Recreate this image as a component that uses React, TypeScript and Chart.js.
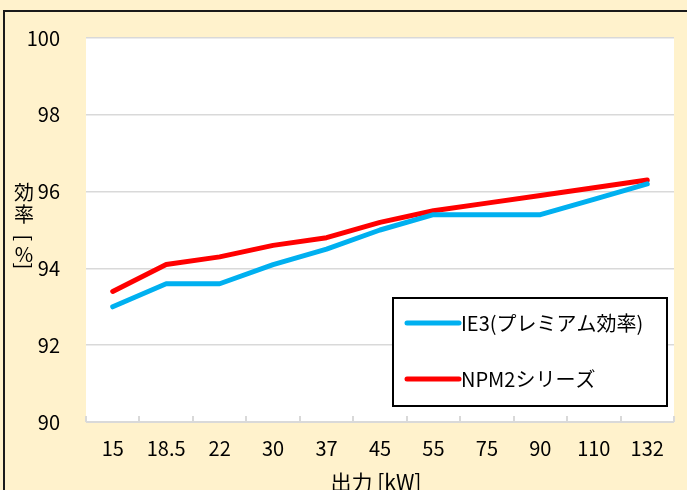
import React, { useEffect, useRef } from "react";
import { Chart, registerables } from "chart.js";

Chart.register(...registerables);

const categories = ["15", "18.5", "22", "30", "37", "45", "55", "75", "90", "110", "132"];
const ie3Values = [93.0, 93.6, 93.6, 94.1, 94.5, 95.0, 95.4, 95.4, 95.4, 95.8, 96.2];
const npm2Values = [93.4, 94.1, 94.3, 94.6, 94.8, 95.2, 95.5, 95.7, 95.9, 96.1, 96.3];
const yTickValues = [90, 92, 94, 96, 98, 100];
const seriesLabels = ["IE3(プレミアム効率)", "NPM2シリーズ"];
const seriesColors = ["#00B0F0", "#FF0000"];
const xTitle = "出力 [kW]";
const yTitleChars = ["効", "率"];
const yTitleUnit = "%";

const FONT = "'Noto Sans CJK JP', 'Noto Sans', sans-serif";
const CREAM = "#FFF2CC";
const GRID = "#D9D9D9";

const decorPlugin = {
  id: "decor",
  beforeDraw(chart: any) {
    const { ctx, chartArea } = chart;
    ctx.save();
    ctx.fillStyle = "#FFFFFF";
    ctx.fillRect(chartArea.left, chartArea.top, chartArea.right - chartArea.left, chartArea.bottom - chartArea.top);
    ctx.restore();
  },
  afterDraw(chart: any) {
    const { ctx, chartArea } = chart;
    const xs = chart.scales.x;
    ctx.save();
    // x axis tick marks pointing up at category boundaries
    ctx.strokeStyle = GRID;
    ctx.lineWidth = 2;
    const n = categories.length;
    for (let i = 0; i <= n; i++) {
      const px = Math.round(xs.left + (i * (xs.right - xs.left)) / n);
      ctx.beginPath();
      ctx.moveTo(px, chartArea.bottom);
      ctx.lineTo(px, chartArea.bottom - 6);
      ctx.stroke();
    }
    ctx.beginPath();
    ctx.moveTo(chartArea.left, chartArea.bottom);
    ctx.lineTo(chartArea.right, chartArea.bottom);
    ctx.stroke();

    // x title
    ctx.fillStyle = "#000";
    ctx.font = `21px ${FONT}`;
    ctx.textAlign = "center";
    ctx.textBaseline = "middle";
    ctx.fillText(xTitle, (chartArea.left + chartArea.right) / 2 - 4, chartArea.bottom + 60);

    // y title (vertical)
    const cx = 24;
    ctx.font = `20px ${FONT}`;
    ctx.fillText(yTitleChars[0], cx, 192);
    ctx.fillText(yTitleChars[1], cx, 214);
    ctx.save();
    ctx.translate(cx, 238);
    ctx.rotate(Math.PI / 2);
    ctx.fillText("[", 0, 0);
    ctx.restore();
    ctx.fillText(yTitleUnit, cx, 254);
    ctx.save();
    ctx.translate(cx, 266);
    ctx.rotate(Math.PI / 2);
    ctx.fillText("]", 0, 0);
    ctx.restore();

    // legend
    const bx = chartArea.left + 307;
    const by = 298;
    const bw = 274;
    const bh = 108;
    ctx.fillStyle = "#FFFFFF";
    ctx.fillRect(bx, by, bw, bh);
    ctx.strokeStyle = "#000";
    ctx.lineWidth = 2;
    ctx.strokeRect(bx, by, bw, bh);
    const rows = [323, 379];
    chart.data.datasets.forEach((ds: any, i: number) => {
      const y = rows[i];
      ctx.strokeStyle = ds.borderColor;
      ctx.lineWidth = 5;
      ctx.lineCap = "round";
      ctx.beginPath();
      ctx.moveTo(bx + 14, y);
      ctx.lineTo(bx + 66, y);
      ctx.stroke();
      ctx.fillStyle = "#000";
      ctx.font = `20px ${FONT}`;
      ctx.textAlign = "left";
      ctx.textBaseline = "middle";
      ctx.fillText(ds.label, bx + 68, y);
    });
    ctx.restore();
  },
};

export default function App() {
  const ref = useRef<HTMLCanvasElement | null>(null);

  useEffect(() => {
    if (!ref.current) return;
    const chart = new Chart(ref.current, {
      type: "line",
      data: {
        labels: categories,
        datasets: [
          {
            label: seriesLabels[0],
            data: ie3Values,
            borderColor: seriesColors[0],
            backgroundColor: seriesColors[0],
            borderWidth: 5,
            pointRadius: 0,
            tension: 0,
            borderCapStyle: "round",
            borderJoinStyle: "round",
          },
          {
            label: seriesLabels[1],
            data: npm2Values,
            borderColor: seriesColors[1],
            backgroundColor: seriesColors[1],
            borderWidth: 5,
            pointRadius: 0,
            tension: 0,
            borderCapStyle: "round",
            borderJoinStyle: "round",
          },
        ],
      },
      options: {
        animation: false,
        responsive: false,
        maintainAspectRatio: false,
        layout: { padding: { top: 38, right: 13, left: 0, bottom: 0 } },
        plugins: {
          legend: { display: false },
          tooltip: { enabled: false },
        },
        scales: {
          x: {
            type: "category",
            offset: true,
            grid: { display: false, drawTicks: false },
            border: { display: false },
            ticks: {
              color: "#000",
              font: { family: FONT, size: 20 },
              padding: 14,
              maxRotation: 0,
              autoSkip: false,
            },
            afterFit: (s: any) => {
              s.height = 68;
            },
          },
          y: {
            min: 90,
            max: 100,
            grid: { color: GRID, lineWidth: 1.5, drawTicks: false },
            border: { display: false },
            afterBuildTicks: (s: any) => {
              s.ticks = yTickValues.map((v) => ({ value: v }));
            },
            ticks: {
              color: "#000",
              font: { family: FONT, size: 20 },
              padding: 26,
            },
            afterFit: (s: any) => {
              s.width = 86;
            },
          },
        },
      },
      plugins: [decorPlugin],
    });
    return () => chart.destroy();
  }, []);

  return (
    <div
      style={{
        position: "fixed",
        left: 0,
        top: 0,
        width: 687,
        height: 490,
        background: CREAM,
        overflow: "hidden",
      }}
    >
      <canvas ref={ref} width={687} height={490} style={{ display: "block", width: 687, height: 490 }} />
      <div
        style={{
          position: "absolute",
          left: 3,
          top: 10,
          width: 900,
          height: 900,
          borderTop: "2px solid #1a1a1a",
          borderLeft: "2px solid #1a1a1a",
          pointerEvents: "none",
        }}
      />
    </div>
  );
}
